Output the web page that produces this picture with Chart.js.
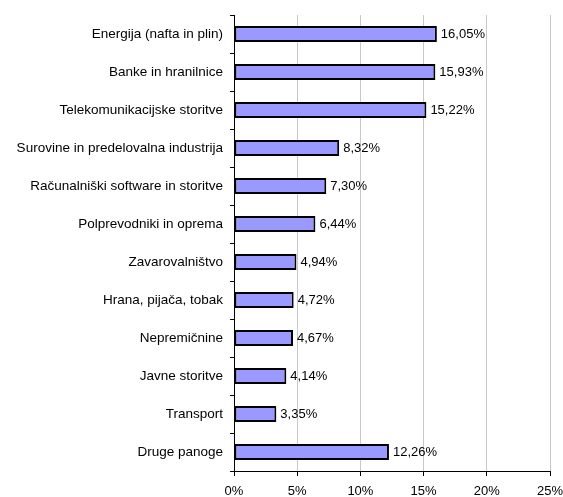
<!DOCTYPE html>
<html>
<head>
<meta charset="utf-8">
<script src="https://cdn.jsdelivr.net/npm/chart.js@4"></script>
<style>
  html, body { margin: 0; padding: 0; background: #fff; }
  #wrap { width: 563px; height: 497px; }
</style>
</head>
<body>
<div id="wrap"><canvas id="barchart"></canvas></div>
<script>
var sectors = ['Energija (nafta in plin)', 'Banke in hranilnice', 'Telekomunikacijske storitve',
    'Surovine in predelovalna industrija', 'Računalniški software in storitve', 'Polprevodniki in oprema',
    'Zavarovalništvo', 'Hrana, pijača, tobak', 'Nepremičnine', 'Javne storitve', 'Transport', 'Druge panoge'];
var shares = [16.05, 15.93, 15.22, 8.32, 7.30, 6.44, 4.94, 4.72, 4.67, 4.14, 3.35, 12.26];
var xTicks = [0, 5, 10, 15, 20, 25];

(function() {
    "use strict";

    var fontFamily = '"Liberation Sans", Arial, sans-serif';

    // labels next to bar ends, e.g. "16,05%"
    var valueLabels = {
        id: 'valueLabels',
        afterDatasetsDraw: function(chart) {
            var ctx = chart.ctx;
            var meta = chart.getDatasetMeta(0);
            ctx.save();
            ctx.font = '13px ' + fontFamily;
            ctx.fillStyle = '#000';
            ctx.textAlign = 'left';
            ctx.textBaseline = 'middle';
            meta.data.forEach(function(bar, i) {
                ctx.fillText(shares[i].toFixed(2).replace('.', ',') + '%', bar.x + 4, bar.y);
            });
            ctx.restore();
        }
    };

    new Chart(document.getElementById('barchart'), {
        type: 'bar',
        data: {
            labels: sectors,
            datasets: [{
                data: shares,
                backgroundColor: '#9999ff',
                borderColor: '#000',
                borderWidth: 2,
                borderSkipped: false,
                categoryPercentage: 1,
                barPercentage: 0.42,
            }]
        },
        options: {
            indexAxis: 'y',
            responsive: true,
            maintainAspectRatio: false,
            animation: false,
            layout: {
                padding: { top: 14, right: 13, bottom: 0, left: 0 }
            },
            plugins: {
                legend: { display: false },
                tooltip: { enabled: false },
            },
            scales: {
                x: {
                    min: 0,
                    max: 25,
                    afterBuildTicks: function(scale) {
                        scale.ticks = xTicks.map(function(v) { return { value: v }; });
                    },
                    afterFit: function(scale) {
                        scale.height = 26;
                        scale.paddingLeft = 0;
                        scale.paddingRight = 0;
                    },
                    ticks: {
                        color: '#000',
                        font: { family: fontFamily, size: 13 },
                        padding: 8,
                        maxRotation: 0,
                        callback: function(v) { return v + '%'; },
                    },
                    grid: {
                        color: '#c8c8c8',
                        tickColor: '#000',
                        tickLength: 5,
                    },
                    border: { color: '#000', width: 1 },
                },
                y: {
                    afterFit: function(scale) { scale.width = 234; },
                    ticks: {
                        color: '#000',
                        font: { family: fontFamily, size: 13.5 },
                        padding: 7,
                        autoSkip: false,
                    },
                    grid: {
                        offset: true,
                        drawOnChartArea: false,
                        tickColor: '#000',
                        tickLength: 4,
                    },
                    border: { color: '#000', width: 1 },
                },
            },
        },
        plugins: [valueLabels],
    });
})();
</script>
</body>
</html>
